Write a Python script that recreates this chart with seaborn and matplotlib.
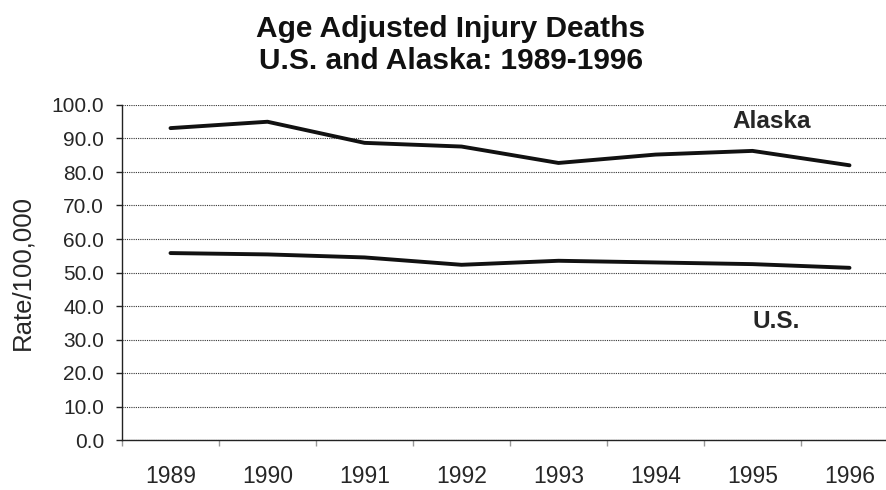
import matplotlib
matplotlib.use('Agg')
import matplotlib.pyplot as plt
import numpy as np
import pandas as pd
import seaborn as sns
from matplotlib.ticker import MultipleLocator, FixedLocator

years = [1989, 1990, 1991, 1992, 1993, 1994, 1995, 1996]
alaska = [93.1, 95.0, 88.7, 87.6, 82.7, 85.2, 86.3, 82.0]
us = [55.8, 55.4, 54.5, 52.3, 53.5, 53.0, 52.5, 51.4]
yticks = [0, 10, 20, 30, 40, 50, 60, 70, 80, 90, 100]

df = pd.DataFrame({
    'year': years * 2,
    'rate': alaska + us,
    'region': ['Alaska'] * len(years) + ['U.S.'] * len(years),
})

sns.set_style('white')
plt.rcParams['font.family'] = ['Liberation Sans', 'DejaVu Sans']

fig = plt.figure(figsize=(8.86, 4.9), dpi=100)
ax = fig.add_axes([122 / 886, 50 / 490, 776 / 886, 335 / 490])

sns.lineplot(data=df, x='year', y='rate', hue='region',
             palette={'Alaska': '#111111', 'U.S.': '#111111'},
             linewidth=2.8, legend=False, ax=ax)

ax.set_xlim(1988.5, 1996.5)
ax.set_ylim(0, 100)

# dotted gridlines
ax.yaxis.set_major_locator(FixedLocator(yticks))
ax.grid(axis='y', linestyle=(0, (1, 1)), color='#333333', linewidth=0.8)
ax.grid(axis='x', visible=False)
ax.set_axisbelow(True)

for s in ['top', 'right']:
    ax.spines[s].set_visible(False)
for s in ['left', 'bottom']:
    ax.spines[s].set_color('#222222')
    ax.spines[s].set_linewidth(1.0)

ax.set_yticklabels([f'{v:.1f}' for v in yticks], fontsize=15)
ax.tick_params(axis='y', direction='out', length=4, width=1, pad=9, color='#222222', left=True)

ax.set_xticks(years)
ax.set_xticklabels([str(y) for y in years], fontsize=16.5)
ax.xaxis.set_minor_locator(MultipleLocator(1.0, offset=0.5))
ax.tick_params(axis='x', which='major', length=0, pad=18)
ax.tick_params(axis='x', which='minor', direction='out', length=4, width=1,
               color='#999999', bottom=True)

ax.set_xlabel('')
ax.set_ylabel('Rate/100,000', fontsize=18.5, labelpad=12)

ax.text(1995.2, 95.2, 'Alaska', fontsize=17.5, fontweight='bold', ha='center', va='center')
ax.text(1995.24, 35.5, 'U.S.', fontsize=17.5, fontweight='bold', ha='center', va='center')

fig.text(451 / 886, 1 - 45 / 490, 'Age Adjusted Injury Deaths\nU.S. and Alaska: 1989-1996',
         fontsize=21.5, fontweight='bold', ha='center', va='center', linespacing=1.2,
         color='#111111')

fig.savefig('out.png', dpi=100)
